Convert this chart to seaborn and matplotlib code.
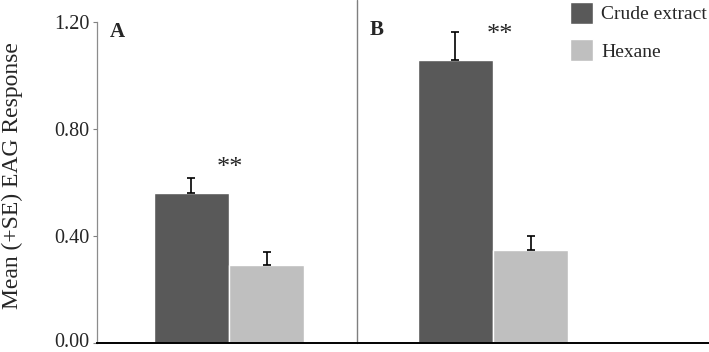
import numpy as np
import pandas as pd
import seaborn as sns
import matplotlib.pyplot as plt
from matplotlib.transforms import ScaledTranslation

# values
panels = ['A', 'B']
treatments = ['Crude extract', 'Hexane']
crude_mean = [0.562, 1.057]
crude_se = [0.054, 0.107]
hexane_mean = [0.293, 0.348]
hexane_se = [0.048, 0.053]
star_labels = ['**', '**']
y_ticks = [0.0, 0.4, 0.8, 1.2]

df = pd.DataFrame({
    'panel': panels * 2,
    'treatment': [treatments[0]] * 2 + [treatments[1]] * 2,
    'mean': crude_mean + hexane_mean,
    'se': crude_se + hexane_se,
})

sns.set_style('white')
plt.rcParams['font.family'] = ['Liberation Serif', 'DejaVu Serif']

colors = ['#595959', '#bfbfbf']

fig = plt.figure(figsize=(7.09, 3.52), dpi=100)
ax = fig.add_axes([97 / 709, 9 / 352, 612 / 709, 321 / 352])

sns.barplot(data=df, x='panel', y='mean', hue='treatment', hue_order=treatments,
            palette=colors, width=0.57, errorbar=None, saturation=1, ax=ax)

# +SE error bars on each bar
for cont, t in zip(ax.containers, treatments):
    ses = df.loc[df['treatment'] == t, 'se'].values
    xs = [b.get_x() + b.get_width() / 2 for b in cont]
    ys = [b.get_height() for b in cont]
    ax.errorbar(xs, ys, yerr=[np.zeros(len(ses)), ses], fmt='none',
                ecolor='black', elinewidth=1.2, capsize=2.6, capthick=1.2)

ax.set_xlim(-0.5, 1.818)
ax.set_ylim(0, 1.2)
ax.set_yticks(y_ticks)
ax.set_yticklabels(['%.2f' % v for v in y_ticks], fontsize=14.5)
ax.set_xticks([])
ax.set_xlabel('')
ax.set_ylabel('')
ax.tick_params(axis='y', direction='out', length=3, width=0.8, color='#808080', pad=2.5, left=True)
# nudge the bottom label up so it stays inside the picture
lab0 = ax.get_yticklabels()[0]
lab0.set_transform(lab0.get_transform() + ScaledTranslation(0, 2.5 / 72, fig.dpi_scale_trans))

for s in ['top', 'right']:
    ax.spines[s].set_visible(False)
ax.spines['left'].set_color('#8c8c8c')
ax.spines['left'].set_linewidth(0.9)
ax.spines['bottom'].set_color('black')
ax.spines['bottom'].set_linewidth(1.4)

# divider between panel A and B
ax.axvline(0.485, ymin=0, ymax=1.07, color='#7f7f7f', lw=1.0, clip_on=False)

# panel letters and significance stars
ax.text(-0.45, 1.143, 'A', fontsize=15, fontweight='bold', ha='left', va='baseline')
ax.text(0.534, 1.15, 'B', fontsize=15, fontweight='bold', ha='left', va='baseline')
star_y = [0.655, 1.152]
star_x = [0.005, 1.027]
for x, y, s in zip(star_x, star_y, star_labels):
    ax.text(x, y, s, fontsize=19, ha='center', va='center')

fig.text(12 / 709, 1 - 176 / 352, 'Mean (+SE) EAG Response', rotation=90,
         ha='center', va='center', fontsize=17)

leg = ax.legend(loc='upper left', bbox_to_anchor=(568 / 709, 1.0),
                bbox_transform=fig.transFigure, frameon=False, fontsize=14,
                handlelength=1.2, handleheight=1.35, handletextpad=0.4,
                labelspacing=0.8, borderpad=0.1, borderaxespad=0)

fig.savefig('out.png', dpi=100)
